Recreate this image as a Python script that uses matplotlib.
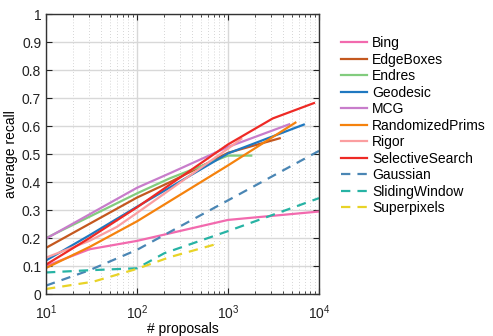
import matplotlib
matplotlib.use("Agg")
import matplotlib.pyplot as plt
from matplotlib.ticker import LogLocator, NullFormatter

plt.rcParams['font.family'] = ['Liberation Sans', 'DejaVu Sans']

methods = ["Bing", "EdgeBoxes", "Endres", "Geodesic", "MCG", "RandomizedPrims",
           "Rigor", "SelectiveSearch", "Gaussian", "SlidingWindow", "Superpixels"]
colors = ["#f26aae", "#c4581f", "#82cc7e", "#1f78c0", "#c87dcb", "#f5820d",
          "#fb9ea0", "#ee2a25", "#4a86b4", "#27b3a4", "#e8d327"]
styles = ["-"] * 8 + ["--"] * 3

bing_x = [10, 30, 100, 1000, 10000]
bing_y = [0.10, 0.16, 0.19, 0.265, 0.295]
edge_x = [10, 100, 230, 1000, 3700]
edge_y = [0.165, 0.345, 0.40, 0.505, 0.557]
endres_x = [10, 100, 230, 1000, 1800]
endres_y = [0.20, 0.36, 0.414, 0.495, 0.495]
geo_x = [10, 30, 100, 1000, 6800]
geo_y = [0.12, 0.21, 0.312, 0.503, 0.606]
mcg_x = [10, 100, 230, 1000, 4700]
mcg_y = [0.198, 0.38, 0.432, 0.526, 0.607]
prims_x = [10, 30, 100, 1000, 5500]
prims_y = [0.093, 0.168, 0.26, 0.46, 0.613]
rigor_x = [10, 30, 60, 100, 1000, 1400]
rigor_y = [0.13, 0.19, 0.24, 0.29, 0.52, 0.555]
ss_x = [10, 30, 100, 1000, 3100, 8800]
ss_y = [0.105, 0.20, 0.31, 0.535, 0.628, 0.683]
gauss_x = [10, 30, 100, 1000, 10000]
gauss_y = [0.03, 0.085, 0.158, 0.335, 0.512]
slide_x = [10, 30, 100, 200, 1000, 10000]
slide_y = [0.077, 0.085, 0.092, 0.146, 0.225, 0.343]
super_x = [10, 33, 100, 230, 830]
super_y = [0.018, 0.044, 0.09, 0.132, 0.183]

xs = [bing_x, edge_x, endres_x, geo_x, mcg_x, prims_x, rigor_x, ss_x, gauss_x, slide_x, super_x]
ys = [bing_y, edge_y, endres_y, geo_y, mcg_y, prims_y, rigor_y, ss_y, gauss_y, slide_y, super_y]

fig = plt.figure(figsize=(4.93, 3.36), dpi=100)
ax = fig.add_axes([0.0933, 0.125, 0.5538, 0.832])

for name, c, ls, x, y in zip(methods, colors, styles, xs, ys):
    line, = ax.plot(x, y, color=c, linestyle=ls, linewidth=1.6, label=name)
    if ls == "--":
        line.set_dashes((4.2, 3.2))

ax.set_xscale("log")
ax.set_xlim(10, 10000)
ax.set_ylim(0, 1)
ax.set_yticks([i / 10 for i in range(11)])
ax.set_yticklabels(["0", "0.1", "0.2", "0.3", "0.4", "0.5", "0.6", "0.7", "0.8", "0.9", "1"])
ax.xaxis.set_minor_locator(LogLocator(base=10, subs=range(2, 10)))
ax.xaxis.set_minor_formatter(NullFormatter())

ax.grid(True, which="major", color="#d8d8d8", linewidth=1.0, linestyle="-")
ax.grid(True, which="minor", axis="x", color="#c8c8c8", linewidth=0.6, linestyle=(0, (1, 2.5)))
ax.set_axisbelow(True)

ax.tick_params(which="both", direction="in", top=True, right=True, labelsize=10, colors="#222222")
ax.tick_params(which="major", length=4)
ax.tick_params(which="minor", length=2)
ax.tick_params(axis="x", which="major", pad=7)
for s in ax.spines.values():
    s.set_color("#333333")
    s.set_linewidth(1.0)

ax.set_xlabel("# proposals", fontsize=10, labelpad=0)
ax.set_ylabel("average recall", fontsize=10, labelpad=3)

ax.legend(loc="upper left", bbox_to_anchor=(1.045, 0.957), frameon=False, fontsize=10,
          handlelength=1.9, handletextpad=0.35, labelspacing=0.18, borderaxespad=0.3)

fig.savefig("out.png", dpi=100)
